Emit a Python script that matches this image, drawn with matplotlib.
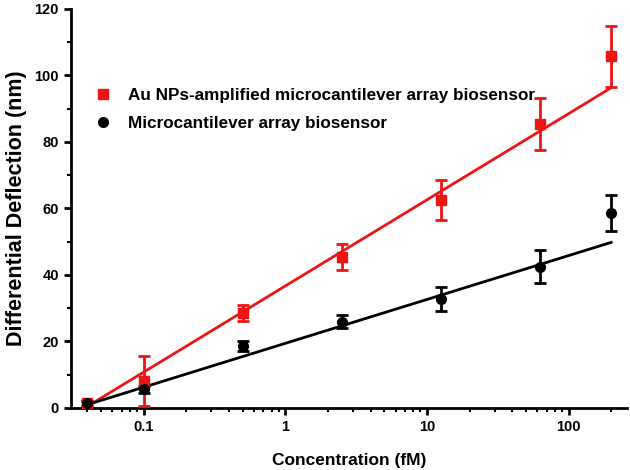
import numpy as np
import matplotlib
matplotlib.use("Agg")
import matplotlib.pyplot as plt
from matplotlib.lines import Line2D
from matplotlib.ticker import LogLocator, FixedLocator, MultipleLocator, FuncFormatter

plt.rcParams['font.family'] = ['Liberation Sans', 'DejaVu Sans']
plt.rcParams['font.weight'] = 'bold'

conc = [0.04, 0.1, 0.5, 2.5, 12.5, 62.5, 200]
au_vals = [1.4, 8.2, 28.6, 45.4, 62.5, 85.4, 105.7]
au_err = [0.8, 7.5, 2.5, 4.0, 6.0, 7.7, 9.3]
mc_vals = [1.4, 5.6, 18.6, 25.9, 32.8, 42.5, 58.6]
mc_err = [0.8, 1.0, 1.5, 2.0, 3.5, 4.9, 5.4]
# linear fits y = a + b*log10(x)
au_fit = (36.7, 25.9)
mc_fit = (19.44, 13.19)
label_au = "Au NPs-amplified microcantilever array biosensor"
label_mc = "Microcantilever array biosensor"
RED = '#ee1414'

fig = plt.figure(figsize=(6.3, 4.7), dpi=100)
ax = fig.add_axes([0.112, 0.132, 0.883, 0.849])

xf = np.array([conc[0], conc[-1]])
ax.plot(xf, au_fit[0] + au_fit[1]*np.log10(xf), color=RED, lw=2, zorder=2)
ax.plot(xf, mc_fit[0] + mc_fit[1]*np.log10(xf), color='black', lw=2, zorder=2)

ax.errorbar(conc, au_vals, yerr=au_err, fmt='s', color=RED, ms=6.5,
            elinewidth=2, capsize=4, capthick=2, zorder=3)
ax.errorbar(conc, mc_vals, yerr=mc_err, fmt='o', color='black', ms=7,
            elinewidth=2, capsize=4, capthick=2, zorder=3)

ax.set_xscale('log')
ax.set_xlim(0.0304, 258)
ax.set_ylim(0, 120)
ax.xaxis.set_major_locator(FixedLocator([0.1, 1, 10, 100]))
ax.xaxis.set_major_formatter(FuncFormatter(lambda v, p: {0.1: '0.1', 1: '1', 10: '10', 100: '100'}.get(round(v, 3), '')))
ax.xaxis.set_minor_locator(LogLocator(base=10, subs=np.arange(2, 10), numticks=20))
ax.xaxis.set_minor_formatter(FuncFormatter(lambda v, p: ''))
ax.yaxis.set_major_locator(MultipleLocator(20))
ax.yaxis.set_minor_locator(MultipleLocator(10))

for s in ['top', 'right']:
    ax.spines[s].set_visible(False)
for s in ['left', 'bottom']:
    ax.spines[s].set_linewidth(2)
ax.tick_params(which='major', direction='out', length=5, width=2, labelsize=10.5)
ax.tick_params(which='minor', direction='out', length=3, width=1.5)
for lab in ax.get_xticklabels() + ax.get_yticklabels():
    lab.set_fontweight('bold')

ax.set_xlabel('Concentration (fM)', fontsize=12.5, fontweight='bold', labelpad=14)
ax.set_ylabel('Differential Deflection (nm)', fontsize=15.5, fontweight='bold', labelpad=5)

handles = [Line2D([], [], ls='none', marker='s', color=RED, ms=6.5),
           Line2D([], [], ls='none', marker='o', color='black', ms=7)]
ax.legend(handles, [label_au, label_mc], loc='upper left',
          bbox_to_anchor=(0.007, 0.84), frameon=False,
          prop={'weight': 'bold', 'size': 12.3}, handletextpad=0.75,
          labelspacing=0.73, handlelength=1.5)

fig.savefig('out.png', dpi=100)
